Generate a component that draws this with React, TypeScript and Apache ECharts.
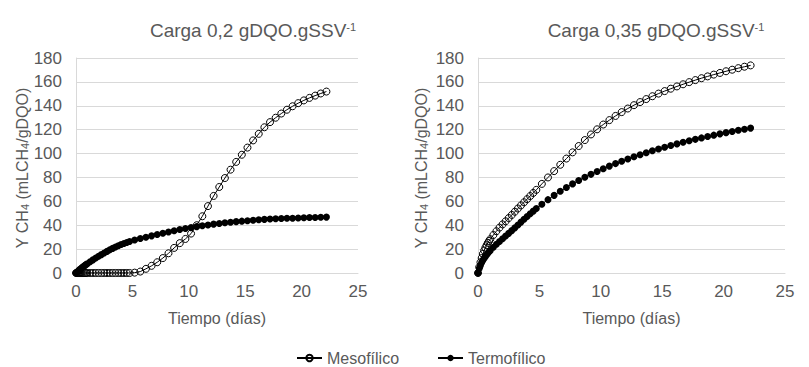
import React, { useEffect, useRef } from "react";
import * as echarts from "echarts";

// Time (days) — shared sampling for all series
const TIME = [
  0, 0.1, 0.2, 0.3, 0.4, 0.5, 0.6, 0.7, 0.8, 0.9, 1.0,
  1.25, 1.5, 1.75, 2, 2.25, 2.5, 2.75, 3, 3.25, 3.5, 3.75, 4, 4.25, 4.5, 4.75,
  5.2, 5.7, 6.2, 6.7, 7.2, 7.7, 8.2, 8.7, 9.2, 9.7, 10.2, 10.7, 11.2, 11.7, 12.2,
  12.7, 13.2, 13.7, 14.2, 14.7, 15.2, 15.7, 16.2, 16.7, 17.2, 17.7, 18.2, 18.7,
  19.2, 19.7, 20.2, 20.7, 21.2, 21.7, 22.2,
];

// Carga 0,2 — Mesofílico
const MESO_02 = [
  0, 0, 0, 0, 0, 0, 0, 0, 0, 0, 0,
  0, 0, 0, 0, 0, 0, 0, 0, 0, 0, 0, 0, 0, 0, 0,
  0.3, 1.2, 3.5, 6, 9, 12.5, 16.5, 21, 25, 28.5, 33, 40, 47.5, 56, 64.5,
  72, 79.5, 86.5, 93, 99, 105, 111, 116.5, 122, 126.3, 130, 133.5, 136.7,
  139.6, 142.2, 144.5, 146.6, 148.5, 150.3, 151.9,
];

// Carga 0,2 — Termofílico
const TERMO_02 = [
  0, 0.9, 1.7, 2.6, 3.4, 4.2, 5.0, 5.7, 6.4, 7.1, 7.8,
  9.4, 11.0, 12.5, 14.0, 15.4, 16.8, 18.1, 19.4, 20.6, 21.7, 22.8, 23.8, 24.7, 25.6, 26.4,
  27.6, 28.9, 30.0, 31.1, 32.2, 33.3, 34.3, 35.3, 36.4, 37.2, 38.0, 38.8, 39.6, 40.2, 40.9,
  41.5, 42.0, 42.5, 43.0, 43.4, 43.8, 44.2, 44.6, 44.9, 45.2, 45.4, 45.6, 45.8,
  45.9, 46.1, 46.2, 46.4, 46.5, 46.7, 46.8,
];

// Carga 0,35 — Mesofílico
const MESO_035 = [
  0, 5, 9, 12.5, 16, 18.8, 21.2, 23.3, 25.2, 26.8, 28.3,
  31.8, 35, 38, 40.7, 43.3, 46, 48.6, 51.3, 54, 56.6, 59.2, 61.8, 64.4, 67, 69.6,
  74.6, 80, 85.3, 90.6, 95.8, 101, 106.3, 111.3, 116, 120.3, 124.3, 128, 131.5, 134.7, 137.7,
  140.5, 143.1, 145.6, 148, 150.2, 152.3, 154.3, 156.2, 158, 159.8, 161.5, 163.1, 164.6,
  166.1, 167.5, 168.9, 170.2, 171.5, 172.7, 173.8,
];

// Carga 0,35 — Termofílico
const TERMO_035 = [
  0, 3.7, 6.5, 8.8, 10.7, 12.4, 13.9, 15.3, 16.6, 17.8, 18.9,
  21.5, 24, 26.4, 28.6, 30.9, 33.2, 35.5, 37.8, 40.2, 42.6, 45, 47.3, 49.6, 51.8, 54,
  57.6, 61.4, 65, 68.4, 71.6, 74.6, 77.4, 80.1, 82.6, 85, 87.3, 89.5, 91.6, 93.6, 95.5,
  97.3, 99, 100.7, 102.3, 103.8, 105.3, 106.7, 108.1, 109.4, 110.7, 111.9, 113.1, 114.3,
  115.4, 116.5, 117.5, 118.5, 119.5, 120.4, 121.3,
];

const SERIES_NAMES = ["Mesofílico", "Termofílico"];
const TITLES = ["Carga 0,2 gDQO.gSSV", "Carga 0,35 gDQO.gSSV"];
const X_NAME = "Tiempo (días)";

const FONT = "'Liberation Sans', Arial, sans-serif";
const TEXT = "#595959";
const GRID = "#d9d9d9";

const pairs = (ys: number[]) => TIME.map((t, i) => [t, ys[i]]);

export default function App() {
  const ref = useRef<HTMLDivElement>(null);

  useEffect(() => {
    if (!ref.current) return;
    const chart = echarts.init(ref.current, null, { renderer: "svg" });

    const xAxisBase = (gridIndex: number) => ({
      type: "value",
      gridIndex,
      min: 0,
      max: 25,
      interval: 5,
      name: X_NAME,
      nameLocation: "middle",
      nameGap: 37,
      nameTextStyle: { fontFamily: FONT, fontSize: 16, color: TEXT },
      axisLine: { show: true, lineStyle: { color: GRID, width: 1 } },
      axisTick: { show: false },
      axisLabel: { margin: 10, fontFamily: FONT, fontSize: 17, color: TEXT },
      splitLine: { show: false },
    });
    const yAxisBase = (gridIndex: number) => ({
      type: "value",
      gridIndex,
      min: 0,
      max: 180,
      interval: 20,
      axisLine: { show: true, lineStyle: { color: GRID, width: 1 } },
      axisTick: { show: false },
      axisLabel: { margin: 14, fontFamily: FONT, fontSize: 17, color: TEXT },
      splitLine: { show: true, lineStyle: { color: GRID, width: 1 } },
    });

    const mesoStyle = {
      type: "line",
      name: SERIES_NAMES[0],
      symbol: "circle",
      symbolSize: 7,
      showAllSymbol: true,
      lineStyle: { color: "#000", width: 1 },
      itemStyle: { color: "rgba(255,255,255,0)", borderColor: "#000", borderWidth: 1 },
      z: 2,
    };
    const termoStyle = {
      type: "line",
      name: SERIES_NAMES[1],
      symbol: "circle",
      symbolSize: 7,
      showAllSymbol: true,
      lineStyle: { color: "#000", width: 1 },
      itemStyle: { color: "#000", borderColor: "#000", borderWidth: 0 },
      z: 3,
    };

    const titleText = (x: number, text: string) => ({
      type: "text",
      x,
      y: 30,
      style: {
        text: `{n|${text}}{s|-1}`,
        align: "center",
        verticalAlign: "middle",
        textAlign: "center",
        textVerticalAlign: "middle",
        fill: TEXT,
        rich: {
          n: { fontFamily: FONT, fontSize: 19, fill: TEXT, color: TEXT },
          s: { fontFamily: FONT, fontSize: 11, fill: TEXT, color: TEXT, padding: [0, 0, 7, 0] },
        },
      },
    });
    const yName = (x: number) => ({
      type: "text",
      x,
      y: 168,
      rotation: Math.PI / 2,
      style: {
        text: "{n|Y CH}{s|4}{n| (mLCH}{s|4}{n|/gDQO)}",
        align: "center",
        verticalAlign: "middle",
        textAlign: "center",
        textVerticalAlign: "middle",
        fill: TEXT,
        rich: {
          n: { fontFamily: FONT, fontSize: 16, fill: TEXT, color: TEXT },
          s: { fontFamily: FONT, fontSize: 11, fill: TEXT, color: TEXT, padding: [6, 0, 0, 0] },
        },
      },
    });

    chart.setOption({
      animation: false,
      backgroundColor: "#fff",
      textStyle: { fontFamily: FONT },
      grid: [
        { left: 76, top: 58, width: 282, height: 215 },
        { left: 478, top: 58, width: 307, height: 215 },
      ],
      xAxis: [xAxisBase(0), xAxisBase(1)],
      yAxis: [yAxisBase(0), yAxisBase(1)],
      legend: {
        data: SERIES_NAMES,
        left: 291,
        top: 345,
        itemWidth: 25,
        itemHeight: 8,
        itemGap: 38,
        textStyle: { fontFamily: FONT, fontSize: 16, color: TEXT },
      },
      graphic: [titleText(253, TITLES[0]), titleText(656, TITLES[1]), yName(22), yName(421)],
      series: [
        { ...mesoStyle, xAxisIndex: 0, yAxisIndex: 0, data: pairs(MESO_02) },
        { ...termoStyle, xAxisIndex: 0, yAxisIndex: 0, data: pairs(TERMO_02) },
        { ...mesoStyle, xAxisIndex: 1, yAxisIndex: 1, data: pairs(MESO_035) },
        { ...termoStyle, xAxisIndex: 1, yAxisIndex: 1, data: pairs(TERMO_035) },
      ],
    });

    return () => chart.dispose();
  }, []);

  return <div ref={ref} style={{ width: 809, height: 367, position: "absolute", left: 0, top: 0 }} />;
}
